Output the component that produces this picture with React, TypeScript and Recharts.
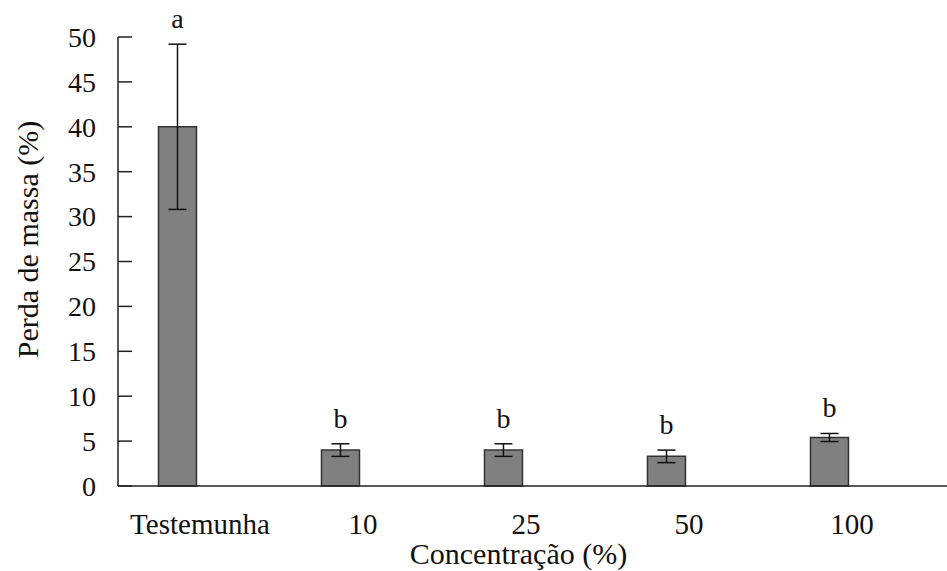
import { ComposedChart, Bar, ErrorBar, XAxis, YAxis, LabelList, Label } from "recharts";

const categories = ["Testemunha", "10", "25", "50", "100"];
const massLoss = [40, 4, 4, 3.3, 5.4];
const errors = [9.2, 0.7, 0.7, 0.7, 0.45];
const letters = ["a", "b", "b", "b", "b"];
const yTicks = [0, 5, 10, 15, 20, 25, 30, 35, 40, 45, 50];

const data = categories.map((name, i) => ({
  pos: i,
  name,
  massLoss: massLoss[i],
  err: errors[i],
}));

const font = "Liberation Serif, Times New Roman, serif";
const ink = "#222";
const txt = { fontFamily: font, fontSize: 28, fill: "#111" };
const title = { fontFamily: font, fontSize: 30, fill: "#111" };

const YTick = ({ x, y, payload }: any) => (
  <g>
    <line x1={x} x2={x + 14} y1={y} y2={y} stroke={ink} strokeWidth={1.5} />
    <text x={x - 22} y={y} dy="0.35em" textAnchor="end" style={txt}>
      {payload.value}
    </text>
  </g>
);

// category labels sit a bit right of their bars, as in the original
const XTick = ({ x, y, payload }: any) => (
  <text x={x + 22} y={y + 48} textAnchor="middle" style={{ ...txt, fontSize: 29 }}>
    {categories[payload.value]}
  </text>
);

const renderLetter = (props: any) => {
  const { x, y, width, height, value, index } = props;
  const pxPerUnit = value ? height / value : 0;
  const errTop = y - errors[index] * pxPerUnit;
  return (
    <text x={x + width / 2} y={errTop - 16} textAnchor="middle" style={txt}>
      {letters[index]}
    </text>
  );
};

const YLabel = ({ viewBox }: any) => {
  const cx = viewBox.x + 27;
  const cy = viewBox.y + viewBox.height / 2 - 22;
  return (
    <text
      x={cx}
      y={cy}
      transform={`rotate(-90, ${cx}, ${cy})`}
      textAnchor="middle"
      dominantBaseline="central"
      style={title}
    >
      Perda de massa (%)
    </text>
  );
};

const App = () => {
  return (
    <div style={{ position: "absolute", left: 0, top: 0, background: "#fff" }}>
      <ComposedChart width={947} height={571} data={data} margin={{ top: 37, right: 0, bottom: 0, left: 0 }}>
        <XAxis
          type="number"
          dataKey="pos"
          domain={[-0.368, 4.718]}
          allowDataOverflow
          ticks={[0, 1, 2, 3, 4]}
          tick={<XTick />}
          tickLine={false}
          tickSize={0}
          tickMargin={0}
          height={85}
          axisLine={{ stroke: ink, strokeWidth: 1.5 }}
        >
          <Label value="Concentração (%)" position="insideBottom" offset={7} dx={-14} style={title} />
        </XAxis>
        <YAxis
          type="number"
          domain={[0, 50]}
          ticks={yTicks}
          width={118}
          tick={<YTick />}
          tickLine={false}
          tickSize={0}
          tickMargin={0}
          axisLine={{ stroke: ink, strokeWidth: 1.5 }}
        >
          <Label content={<YLabel />} />
        </YAxis>
        <Bar dataKey="massLoss" fill="#808080" stroke="#333" strokeWidth={1.5} barSize={38} isAnimationActive={false}>
          <ErrorBar dataKey="err" width={9} stroke="#111" strokeWidth={1.5} direction="y" />
          <LabelList dataKey="massLoss" content={renderLetter} />
        </Bar>
      </ComposedChart>
    </div>
  );
};

export default App;
